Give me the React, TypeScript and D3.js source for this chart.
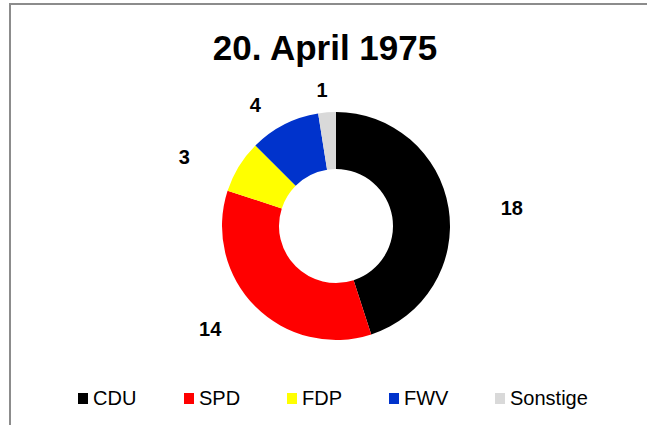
import React from 'react';
import * as d3 from 'd3';

const parties = ['CDU', 'SPD', 'FDP', 'FWV', 'Sonstige'];
const seats = [18, 14, 3, 4, 1];
const partyColors = ['#000000', '#FF0000', '#FFFF00', '#0033CC', '#D9D9D9'];

const width = 647;
const height = 425;
const cx = 336;
const cy = 226;
const outerR = 114;
const innerR = 57;
// labels sit on an ellipse around the ring, like the original
const labelRx = 178;
const labelRy = 140;
const labelDy = 4;

const App: React.FC = () => {
  const data = parties.map((p, i) => ({ label: p, value: seats[i], color: partyColors[i] }));

  const pie = d3
    .pie<{ label: string; value: number; color: string }>()
    .value((d) => d.value)
    .sort(null);

  const arc = d3
    .arc<d3.PieArcDatum<{ label: string; value: number; color: string }>>()
    .innerRadius(innerR)
    .outerRadius(outerR);

  const arcs = pie(data);

  const legendX = d3.scaleOrdinal<string, number>().domain(parties).range([78, 184, 287, 389, 495]);

  return (
    <svg
      width={width}
      height={height}
      style={{ position: 'absolute', left: 0, top: 0, background: '#fff' }}
      fontFamily="'Liberation Sans', Arial, sans-serif"
    >
      <rect x={10} y={4} width={700} height={500} fill="#fff" stroke="#8c8c8c" strokeWidth={2} />
      <text x={325} y={60} textAnchor="middle" fontSize={35} fontWeight="bold" fill="#000">
        20. April 1975
      </text>
      <g transform={`translate(${cx},${cy})`}>
        {arcs.map((d) => (
          <path key={d.data.label} d={arc(d)!} fill={d.data.color} />
        ))}
        {arcs.map((d) => {
          const mid = (d.startAngle + d.endAngle) / 2;
          const x = labelRx * Math.sin(mid);
          const y = -labelRy * Math.cos(mid) + labelDy;
          return (
            <text
              key={'l' + d.data.label}
              x={x}
              y={y}
              textAnchor="middle"
              dominantBaseline="central"
              fontSize={20}
              fontWeight="bold"
              fill="#000"
            >
              {d.data.value}
            </text>
          );
        })}
      </g>
      <g>
        {data.map((d) => (
          <g key={'lg' + d.label} transform={`translate(${legendX(d.label)},393)`}>
            <rect x={0} y={0} width={10} height={11} fill={d.color} />
            <text x={15} y={12} fontSize={20} fill="#000">
              {d.label}
            </text>
          </g>
        ))}
      </g>
    </svg>
  );
};

export default App;
